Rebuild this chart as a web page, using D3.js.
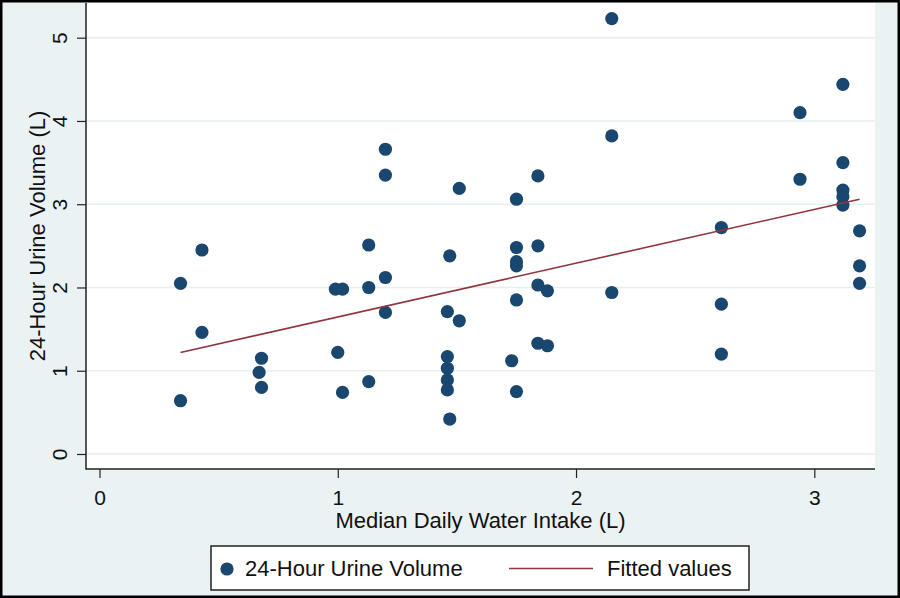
<!DOCTYPE html>
<html lang="en">
<head>
    <meta charset="UTF-8">
    <title>Water Intake vs Urine Volume</title>
    <script src="https://d3js.org/d3.v7.min.js"></script>
    <style>
        * { margin: 0; padding: 0; box-sizing: border-box; }
        body { background: #fff; font-family: "Liberation Sans", Arial, sans-serif; }
        svg { display: block; }
    </style>
</head>
<body>
    <svg width="900" height="598"></svg>

    <script>
        // Median daily water intake (L) and 24-hour urine volume (L)
        const intake = [0.34, 0.34, 0.43, 0.43, 0.68, 0.67, 0.68, 0.99, 1.02, 1.00, 1.02,
            1.13, 1.13, 1.13, 1.20, 1.20, 1.20, 1.20, 1.51, 1.47, 1.46, 1.51, 1.46, 1.46,
            1.46, 1.46, 1.47, 1.75, 1.75, 1.75, 1.75, 1.75, 1.73, 1.75, 1.84, 1.84, 1.84,
            1.88, 1.84, 1.88, 2.15, 2.15, 2.15, 2.61, 2.61, 2.61, 2.94, 2.94, 3.12, 3.12,
            3.12, 3.12, 3.12, 3.19, 3.19, 3.19];
        const urine = [2.05, 0.64, 2.45, 1.46, 1.15, 0.98, 0.80, 1.98, 1.98, 1.22, 0.74,
            2.51, 2.00, 0.87, 3.66, 3.35, 2.12, 1.70, 3.19, 2.38, 1.71, 1.60, 1.17, 1.03,
            0.89, 0.77, 0.42, 3.06, 2.48, 2.31, 2.26, 1.85, 1.12, 0.75, 3.34, 2.50, 2.03,
            1.96, 1.33, 1.30, 5.23, 3.82, 1.94, 2.72, 1.80, 1.20, 4.10, 3.30, 4.44, 3.50,
            3.17, 3.09, 2.99, 2.68, 2.26, 2.05];

        // fitted line end points
        const fitX = [0.34, 3.19];
        const fitY = [1.22, 3.06];

        const xTicks = [0, 1, 2, 3];
        const yTicks = [0, 1, 2, 3, 4, 5];

        const seriesLabels = ["24-Hour Urine Volume", "Fitted values"];

        const navy = "#1a476f";
        const maroon = "#90353b";
        const bg = "#eaf2f3";

        const svg = d3.select("svg");
        const W = 900, H = 598;

        // plot region box
        const plot = { left: 86, right: 875, top: 3, bottom: 469 };

        const x = d3.scaleLinear().domain([0, 3]).range([99.5, 814.3]);
        const y = d3.scaleLinear().domain([0, 5]).range([454, 37.7]);

        // graph background
        svg.append("rect")
            .attr("x", 0).attr("y", 0)
            .attr("width", W).attr("height", H)
            .attr("fill", bg);

        svg.append("rect")
            .attr("x", plot.left).attr("y", plot.top)
            .attr("width", plot.right - plot.left)
            .attr("height", plot.bottom - plot.top)
            .attr("fill", "#fff");

        // gridlines
        svg.append("g")
            .selectAll("line")
            .data(yTicks)
            .join("line")
            .attr("x1", plot.left).attr("x2", plot.right)
            .attr("y1", d => y(d)).attr("y2", d => y(d))
            .attr("stroke", "#e6eef0")
            .attr("stroke-width", 1.5);

        // y axis
        const yAxis = svg.append("g")
            .attr("transform", `translate(${plot.left},0)`)
            .call(d3.axisLeft(y).tickValues(yTicks).tickSize(9).tickPadding(0).tickFormat(d3.format("d")));
        yAxis.select(".domain").remove();
        yAxis.selectAll(".tick line").attr("stroke", "#222").attr("stroke-width", 1.2);
        yAxis.selectAll(".tick text")
            .attr("x", null).attr("dy", null)
            .attr("text-anchor", "middle")
            .attr("transform", "translate(-19,0) rotate(-90)")
            .attr("font-family", "Liberation Sans, Arial, sans-serif")
            .attr("font-size", 21)
            .attr("fill", "#111");

        // x axis
        const xAxis = svg.append("g")
            .attr("transform", `translate(0,${plot.bottom})`)
            .call(d3.axisBottom(x).tickValues(xTicks).tickSize(9).tickFormat(d3.format("d")));
        xAxis.select(".domain").remove();
        xAxis.selectAll(".tick line").attr("stroke", "#222").attr("stroke-width", 1.2);
        xAxis.selectAll(".tick text")
            .attr("y", 36).attr("dy", null)
            .attr("font-family", "Liberation Sans, Arial, sans-serif")
            .attr("font-size", 21)
            .attr("fill", "#111");

        // axis lines
        svg.append("path")
            .attr("d", `M${plot.left},${plot.top}V${plot.bottom}H${plot.right}`)
            .attr("fill", "none")
            .attr("stroke", "#222")
            .attr("stroke-width", 1.5);

        // axis titles
        svg.append("text")
            .attr("transform", `translate(45,${(plot.top + plot.bottom) / 2}) rotate(-90)`)
            .attr("text-anchor", "middle")
            .attr("font-size", 22)
            .attr("fill", "#111")
            .text("24-Hour Urine Volume (L)");

        svg.append("text")
            .attr("x", (plot.left + plot.right) / 2)
            .attr("y", 528)
            .attr("text-anchor", "middle")
            .attr("font-size", 22)
            .attr("fill", "#111")
            .text("Median Daily Water Intake (L)");

        // points
        svg.append("g")
            .selectAll("circle")
            .data(d3.range(intake.length))
            .join("circle")
            .attr("cx", i => x(intake[i]))
            .attr("cy", i => y(urine[i]))
            .attr("r", 6.6)
            .attr("fill", navy);

        // fitted line
        svg.append("path")
            .datum(d3.range(fitX.length))
            .attr("d", d3.line().x(i => x(fitX[i])).y(i => y(fitY[i])))
            .attr("fill", "none")
            .attr("stroke", maroon)
            .attr("stroke-width", 1.6);

        // legend
        const legend = svg.append("g");
        legend.append("rect")
            .attr("x", 211).attr("y", 546)
            .attr("width", 538).attr("height", 44)
            .attr("fill", "#fff")
            .attr("stroke", "#222")
            .attr("stroke-width", 1.5);
        legend.append("circle")
            .attr("cx", 227).attr("cy", 569)
            .attr("r", 6.6)
            .attr("fill", navy);
        legend.append("text")
            .attr("x", 245).attr("y", 575.5)
            .attr("font-size", 22)
            .attr("fill", "#111")
            .text(seriesLabels[0]);
        legend.append("line")
            .attr("x1", 509).attr("x2", 593)
            .attr("y1", 568.5).attr("y2", 568.5)
            .attr("stroke", maroon)
            .attr("stroke-width", 1.6);
        legend.append("text")
            .attr("x", 607).attr("y", 575.5)
            .attr("font-size", 22)
            .attr("fill", "#111")
            .text(seriesLabels[1]);

        // outer frame
        svg.append("rect")
            .attr("x", 1.25).attr("y", 1.25)
            .attr("width", W - 2.5).attr("height", H - 2.5)
            .attr("fill", "none")
            .attr("stroke", "#000")
            .attr("stroke-width", 2.5);
    </script>
</body>
</html>
